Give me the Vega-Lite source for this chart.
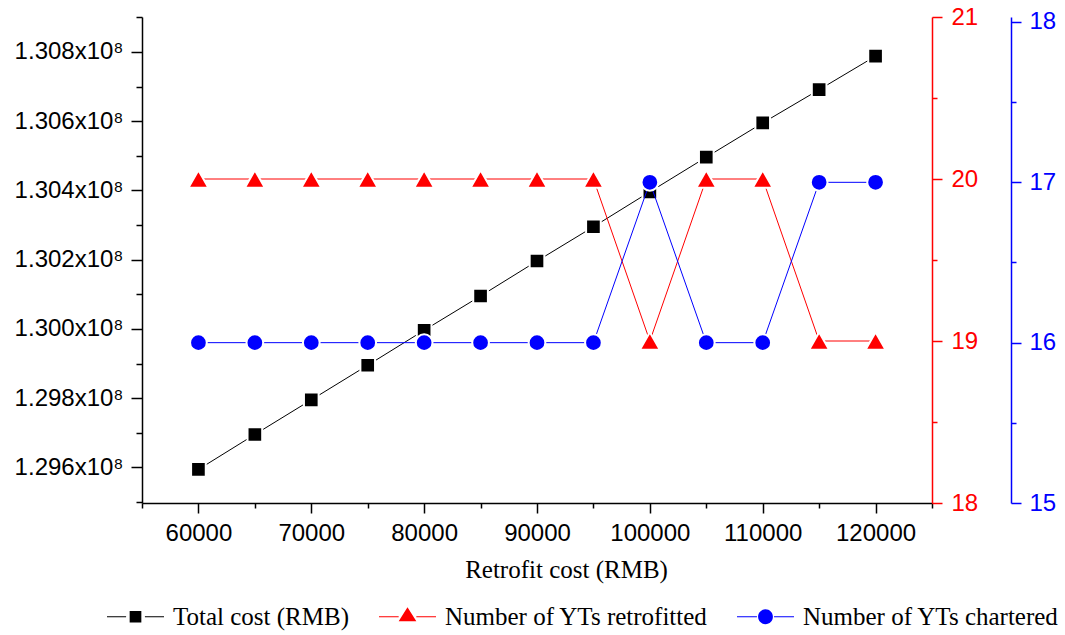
{
  "$schema": "https://vega.github.io/schema/vega-lite/v6.json",
  "width": 790,
  "height": 486,
  "autosize": {"type": "none"},
  "padding": {"left": 142, "top": 17, "right": 133, "bottom": 132},
  "background": "white",
  "config": {
    "view": {"stroke": null},
    "axis": {"grid": false, "labelFont": "Liberation Sans", "labelFontSize": 24, "domainWidth": 1.5, "tickWidth": 1.5, "labelColor": "black", "domainColor": "black", "tickColor": "black"}
  },
  "datasets": {
    "main": [
      {"retrofit": 60000, "total_cost": 129594000, "retrofitted": 20, "chartered": 16},
      {"retrofit": 65000, "total_cost": 129695000, "retrofitted": 20, "chartered": 16},
      {"retrofit": 70000, "total_cost": 129795000, "retrofitted": 20, "chartered": 16},
      {"retrofit": 75000, "total_cost": 129895000, "retrofitted": 20, "chartered": 16},
      {"retrofit": 80000, "total_cost": 129996000, "retrofitted": 20, "chartered": 16},
      {"retrofit": 85000, "total_cost": 130095000, "retrofitted": 20, "chartered": 16},
      {"retrofit": 90000, "total_cost": 130196000, "retrofitted": 20, "chartered": 16},
      {"retrofit": 95000, "total_cost": 130295000, "retrofitted": 20, "chartered": 16},
      {"retrofit": 100000, "total_cost": 130396000, "retrofitted": 19, "chartered": 17},
      {"retrofit": 105000, "total_cost": 130496000, "retrofitted": 20, "chartered": 16},
      {"retrofit": 110000, "total_cost": 130595000, "retrofitted": 20, "chartered": 16},
      {"retrofit": 115000, "total_cost": 130691000, "retrofitted": 19, "chartered": 17},
      {"retrofit": 120000, "total_cost": 130788000, "retrofitted": 19, "chartered": 17}
    ],
    "legend": [
      {"series": "Total cost (RMB)", "retrofit": 60000, "v": 0},
      {"series": "Number of YTs retrofitted", "retrofit": 60000, "v": 0},
      {"series": "Number of YTs chartered", "retrofit": 60000, "v": 0}
    ]
  },
  "encoding": {
    "x": {
      "field": "retrofit",
      "type": "quantitative",
      "scale": {"domain": [55000, 125000], "nice": false, "zero": false},
      "axis": {
        "values": [55000, 60000, 65000, 70000, 75000, 80000, 85000, 90000, 95000, 100000, 105000, 110000, 115000, 120000, 125000],
        "format": "d",
        "labelExpr": "datum.value % 10000 === 0 ? datum.label : ''",
        "tickSize": {"condition": {"test": "datum.value % 10000 === 0", "value": 10}, "value": 5},
        "labelPadding": 8,
        "labelFlush": false,
        "labelOverlap": false,
        "title": "Retrofit cost (RMB)",
        "titleFont": "Liberation Serif",
        "titleFontSize": 25,
        "titleFontWeight": "normal",
        "titleColor": "black",
        "titleX": 424,
        "titleY": 74,
        "titleBaseline": "alphabetic"
      }
    }
  },
  "layer": [
    {
      "data": {"name": "main"},
      "encoding": {
        "y": {
          "field": "total_cost",
          "type": "quantitative",
          "scale": {"domain": [129497000, 130901000], "nice": false, "zero": false},
          "axis": {
            "orient": "left",
            "title": null,
            "values": [129500000, 129600000, 129700000, 129800000, 129900000, 130000000, 130100000, 130200000, 130300000, 130400000, 130500000, 130600000, 130700000, 130800000, 130900000],
            "labelExpr": "datum.value % 200000 === 0 ? format(datum.value / 1e8, '.3f') + 'x10⁸' : ''",
            "tickSize": {"condition": {"test": "datum.value % 200000 === 0", "value": 11}, "value": 6},
            "labelPadding": 8,
            "labelOverlap": false,
            "labelFlush": false
          }
        }
      },
      "layer": [
        {"mark": {"type": "line", "color": "black", "strokeWidth": 1}},
        {"mark": {"type": "point", "shape": "square", "filled": true, "fill": "black", "stroke": "white", "strokeWidth": 2, "size": 215, "opacity": 1}}
      ]
    },
    {
      "data": {"name": "main"},
      "encoding": {
        "y": {
          "field": "retrofitted",
          "type": "quantitative",
          "scale": {"domain": [18, 21], "nice": false, "zero": false},
          "axis": {
            "orient": "right",
            "title": null,
            "values": [18, 18.5, 19, 19.5, 20, 20.5, 21],
            "labelExpr": "datum.value % 1 === 0 ? format(datum.value, 'd') : ''",
            "tickSize": {"condition": {"test": "datum.value % 1 === 0", "value": 10}, "value": 5},
            "labelPadding": 9,
            "labelColor": "#FF0000",
            "domainColor": "#FF0000",
            "tickColor": "#FF0000",
            "labelOverlap": false,
            "labelFlush": false
          }
        }
      },
      "layer": [
        {"mark": {"type": "line", "color": "#FF0000", "strokeWidth": 1}},
        {"mark": {"type": "point", "shape": "triangle-up", "filled": true, "fill": "#FF0000", "stroke": "white", "strokeWidth": 2, "size": 400, "opacity": 1}}
      ]
    },
    {
      "data": {"name": "main"},
      "encoding": {
        "y": {
          "field": "chartered",
          "type": "quantitative",
          "scale": {"domain": [15, 18.031], "nice": false, "zero": false},
          "axis": {
            "orient": "right",
            "offset": 79,
            "title": null,
            "values": [15, 15.5, 16, 16.5, 17, 17.5, 18],
            "labelExpr": "datum.value % 1 === 0 ? format(datum.value, 'd') : ''",
            "tickSize": {"condition": {"test": "datum.value % 1 === 0", "value": 10}, "value": 5},
            "labelPadding": 8,
            "labelColor": "#0000FF",
            "domainColor": "#0000FF",
            "tickColor": "#0000FF",
            "labelOverlap": false,
            "labelFlush": false
          }
        }
      },
      "layer": [
        {"mark": {"type": "line", "color": "#0000FF", "strokeWidth": 1}},
        {"mark": {"type": "point", "shape": "circle", "filled": true, "fill": "#0000FF", "stroke": "white", "strokeWidth": 2, "size": 280, "opacity": 1}}
      ]
    },
    {
      "data": {"name": "legend"},
      "mark": {"type": "point", "filled": true, "opacity": 0},
      "encoding": {
        "y": {"field": "v", "type": "quantitative", "axis": null},
        "shape": {
          "field": "series",
          "type": "nominal",
          "scale": {
            "domain": ["Total cost (RMB)", "Number of YTs retrofitted", "Number of YTs chartered"],
            "range": [
              "M-1,-0.018H-0.33V0.018H-1ZM0.33,-0.018H1V0.018H0.33ZM-0.205,-0.205H0.205V0.205H-0.205Z",
              "M-1,-0.018H-0.31V0.018H-1ZM0.31,-0.018H1V0.018H0.31ZM-0.31,0.16L0.31,0.16L0,-0.33Z",
              "M-1,-0.018H-0.3V0.018H-1ZM0.3,-0.018H1V0.018H0.3ZM-0.26,0A0.26,0.26,0,1,1,0.26,0A0.26,0.26,0,1,1,-0.26,0Z"
            ]
          },
          "legend": {"orient": "none", "legendX": -35, "legendY": 571, "direction": "horizontal", "columns": 3, "title": null, "padding": 0, "symbolSize": 3249, "symbolStrokeWidth": 0, "symbolOpacity": 1, "labelFont": "Liberation Serif", "labelFontSize": 25, "labelColor": "black", "labelOffset": 9, "columnPadding": 29, "labelLimit": 400}
        },
        "color": {
          "field": "series",
          "type": "nominal",
          "scale": {"domain": ["Total cost (RMB)", "Number of YTs retrofitted", "Number of YTs chartered"], "range": ["#000000", "#FF0000", "#0000FF"]},
          "legend": {"orient": "none", "legendX": -35, "legendY": 571, "direction": "horizontal", "columns": 3, "title": null, "padding": 0, "symbolSize": 3249, "symbolStrokeWidth": 0, "symbolOpacity": 1, "labelFont": "Liberation Serif", "labelFontSize": 25, "labelColor": "black", "labelOffset": 9, "columnPadding": 29, "labelLimit": 400}
        }
      }
    }
  ],
  "resolve": {"scale": {"y": "independent"}}
}
